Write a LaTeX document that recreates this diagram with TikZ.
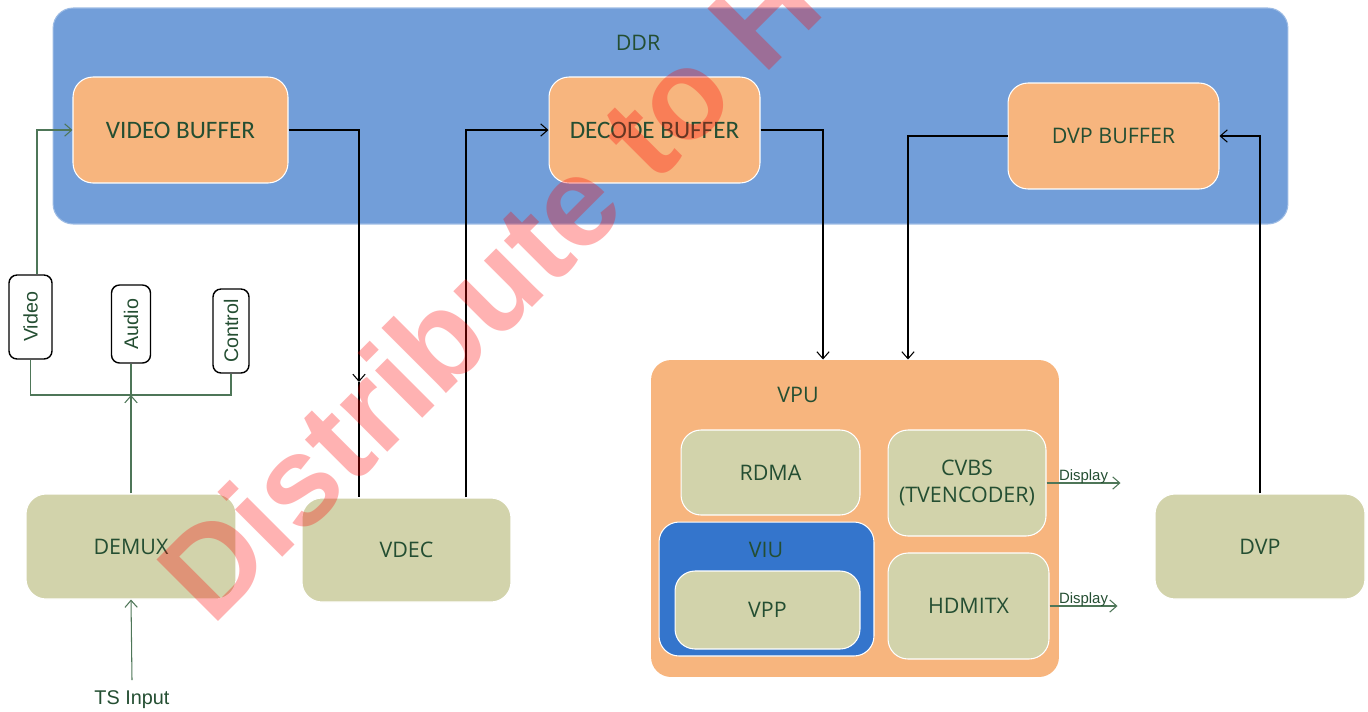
\documentclass[tikz,border=0pt]{standalone}
\usepackage{fontspec}
\usepackage{xcolor}
\usepackage{tikz}
\usetikzlibrary{arrows.meta}
\setmainfont{Open Sans}
\newfontfamily\buffont{Carlito}
\newfontfamily\labfont{Liberation Sans}

\definecolor{ddrblue}{RGB}{114,158,217}
\definecolor{buforange}{RGB}{247,181,126}
\definecolor{modgreen}{RGB}{210,211,171}
\definecolor{viublue}{RGB}{52,117,204}
\definecolor{txtgreen}{RGB}{36,78,50}
\definecolor{wiregreen}{RGB}{78,118,88}

\newcommand{\buftext}[1]{{\buffont\fontsize{14.3}{17}\selectfont #1}}

\tikzset{
  blk/.style={rounded corners=0.4cm, draw=white, line width=0.6pt, text=txtgreen,
    font=\fontsize{12.2}{15}\selectfont, align=center, inner sep=0pt},
  ddrbox/.style={blk, fill=ddrblue, draw=ddrblue!70!white},
  bufbox/.style={blk, fill=buforange},
  modbox/.style={blk, fill=modgreen},
  title/.style={text=txtgreen, font=\fontsize{12.2}{15}\selectfont, inner sep=0pt},
  tag/.style={draw=black, line width=0.8pt, rounded corners=0.16cm, rotate=90, text=txtgreen,
    font=\labfont\fontsize{11.2}{13}\selectfont, inner sep=0pt},
  wire/.style={draw=wiregreen, line width=0.6pt},
  link/.style={draw=black, line width=0.6pt},
  >={Straight Barb[length=4pt,width=7pt]}
}

\begin{document}
\begin{tikzpicture}[x=0.02cm, y=-0.02cm]
  % 画布
  \clip (0,0) rectangle (1368,711);
  % DDR 区域
  \node[ddrbox, minimum width=24.7cm, minimum height=4.32cm] (ddr) at (670.5,116) {};
  \node[title] (ddrlbl) at (638,43) {DDR};
  \node[bufbox, minimum width=4.3cm, minimum height=2.12cm] (vbuf) at (180.5,130) {\buftext{VIDEO BUFFER}};
  \node[bufbox, minimum width=4.22cm, minimum height=2.12cm] (dbuf) at (654.5,130) {\buftext{DECODE BUFFER}};
  \node[bufbox, minimum width=4.22cm, minimum height=2.12cm] (pbuf) at (1113.5,136) {DVP BUFFER};

  % VPU 区域
  \node[blk, fill=buforange, draw=none, minimum width=8.16cm, minimum height=6.34cm] (vpu) at (855,518.5) {};
  \node[title] (vpulbl) at (798,395) {VPU};
  \node[modbox, minimum width=3.58cm, minimum height=1.7cm] (rdma) at (770.5,472.5) {RDMA};
  \node[modbox, minimum width=3.16cm, minimum height=2.12cm] (cvbs) at (967,483) {CVBS\\(TVENCODER)};
  \node[blk, fill=viublue, minimum width=4.3cm, minimum height=2.68cm] (viu) at (766.5,589) {};
  \node[title] (viulbl) at (766,550) {VIU};
  \node[modbox, minimum width=3.7cm, minimum height=1.56cm] (vpp) at (767.5,610) {VPP};
  \node[modbox, minimum width=3.22cm, minimum height=2.12cm] (hdmi) at (968.5,606) {HDMITX};

  % 其他模块
  \node[modbox, minimum width=4.2cm, minimum height=2.1cm] (demux) at (131,546.5) {DEMUX};
  \node[modbox, minimum width=4.18cm, minimum height=2.08cm] (vdec) at (406.5,550) {VDEC};
  \node[modbox, minimum width=4.2cm, minimum height=2.1cm] (dvp) at (1260,546.5) {DVP};

  % 数据类型
  \node[tag, minimum width=1.68cm, minimum height=0.86cm] (video) at (30.5,317) {Video};
  \node[tag, minimum width=1.56cm, minimum height=0.78cm] (audio) at (131,324) {Audio};
  \node[tag, minimum width=1.68cm, minimum height=0.72cm] (control) at (231,331) {Control};
  \node[text=txtgreen, font=\labfont\fontsize{11.3}{13}\selectfont, anchor=north, inner sep=0pt] (ts) at (132,690) {TS Input};

  % 左侧连线
  \coordinate (bus) at (131,395);
  \draw[wire] (video.west) |- (bus) -| (control.west);
  \draw[wire] (audio.west) -- (bus);
  \draw[wire,->] (demux.north) -- (bus);
  \draw[wire,->] (ts.north) ++(0,-10) -- (demux.south);
  \draw[wire,->] ([xshift=0.13cm]video.east) |- (vbuf.west);

  % 缓存连线
  \coordinate (vdecin) at (359,382);
  \draw[link,->] (vbuf.east) -| (vdecin);
  \draw[link] (vdecin) -- (vdecin |- vdec.north);
  \draw[link,->] ([xshift=1.19cm]vdec.north) |- (dbuf.west);
  \draw[link,->] (dbuf.east) -| ([xshift=-0.64cm]vpu.north);
  \draw[link,->] (pbuf.west) -| ([xshift=1.06cm]vpu.north);
  \draw[link,->] (dvp.north) |- (pbuf.east);

  % 输出
  \draw[wire,->] (cvbs.east) -- ++(74,0)
    node[pos=0.5, anchor=base, yshift=1.5pt, text=txtgreen, font=\labfont\fontsize{8.5}{10}\selectfont, inner sep=0pt] {Display};
  \draw[wire,->] (hdmi.east) -- ++(68,0)
    node[pos=0.5, anchor=base, yshift=1.5pt, text=txtgreen, font=\labfont\fontsize{8.5}{10}\selectfont, inner sep=0pt] {Display};

  % 水印
  \node[anchor=base west, rotate=45, inner sep=0pt, text=red, text opacity=0.3,
    font=\labfont\bfseries\fontsize{72}{72}\selectfont] (mark) at (212,628) {Distribute to H};
\end{tikzpicture}
\end{document}
